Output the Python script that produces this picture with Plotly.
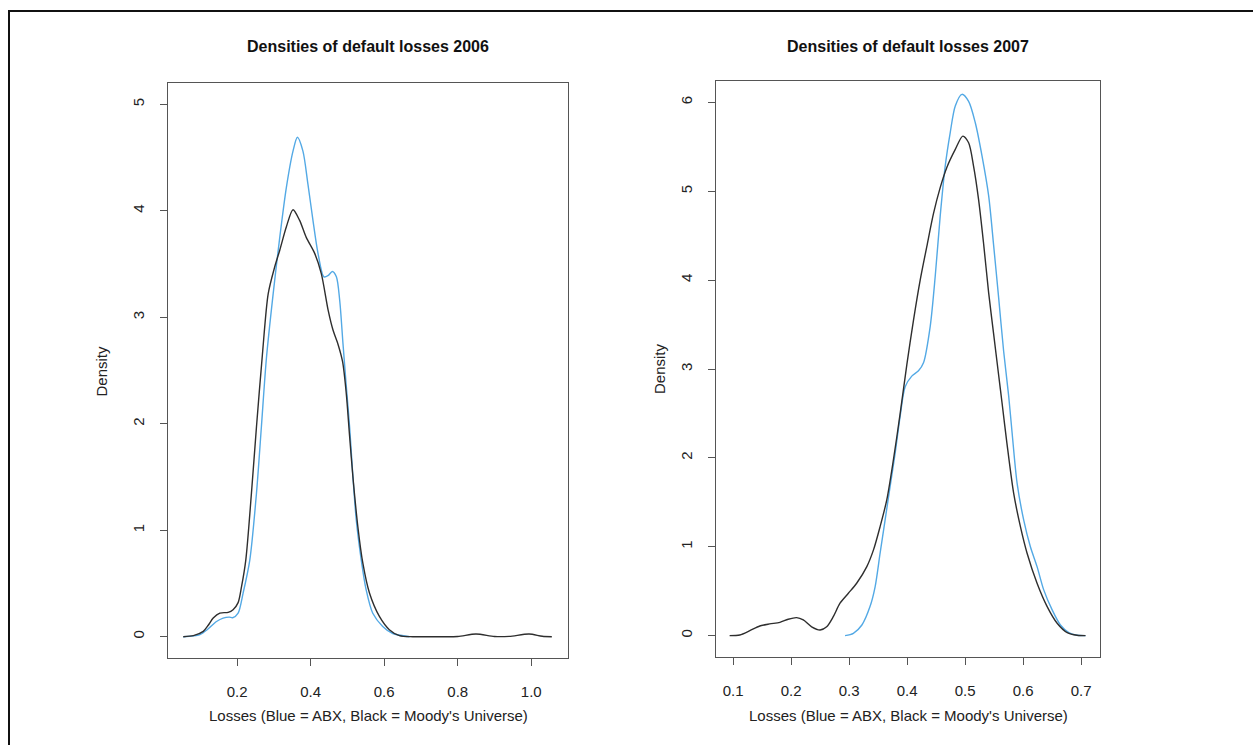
import plotly.graph_objects as go

# ---- data ----
x06_moodys = [0.0535, 0.081, 0.108, 0.122, 0.135, 0.153, 0.1757, 0.189, 0.2027, 0.212, 0.2236, 0.239,
              0.2526, 0.2688, 0.2845, 0.302, 0.316, 0.334, 0.352, 0.370, 0.388, 0.411, 0.429, 0.448,
              0.4608, 0.475, 0.487, 0.497, 0.506, 0.515, 0.5285, 0.542, 0.560, 0.587, 0.614, 0.6415,
              0.678, 0.75, 0.80, 0.8497, 0.90, 0.94, 0.994, 1.03, 1.056]
y06_moodys = [0.0, 0.01, 0.05, 0.11, 0.175, 0.222, 0.228, 0.253, 0.32, 0.47, 0.72, 1.35,
              1.97, 2.65, 3.22, 3.47, 3.63, 3.85, 4.01, 3.91, 3.75, 3.60, 3.41, 3.06,
              2.88, 2.74, 2.58, 2.28, 1.88, 1.50, 1.03, 0.69, 0.41, 0.19, 0.066, 0.01,
              0.0, 0.0, 0.002, 0.025, 0.002, 0.003, 0.025, 0.004, 0.0]

x06_abx = [0.0535, 0.099, 0.120, 0.144, 0.162, 0.1787, 0.1877, 0.2027, 0.2163, 0.2345, 0.2527, 0.266,
           0.2798, 0.298, 0.316, 0.334, 0.352, 0.364, 0.379, 0.3926, 0.4063, 0.42, 0.436, 0.447,
           0.459, 0.47, 0.479, 0.488, 0.497, 0.506, 0.515, 0.524, 0.5377, 0.551, 0.569, 0.596,
           0.6233, 0.669]
y06_abx = [0.0, 0.02, 0.07, 0.143, 0.175, 0.184, 0.178, 0.222, 0.41, 0.72, 1.35, 1.97,
           2.62, 3.22, 3.75, 4.22, 4.56, 4.69, 4.56, 4.25, 3.91, 3.60, 3.38, 3.39,
           3.43, 3.38, 3.16, 2.75, 2.35, 1.97, 1.50, 1.10, 0.72, 0.44, 0.22, 0.097,
           0.03, 0.0]

x07_moodys = [0.094, 0.1116, 0.1288, 0.146, 0.163, 0.1807, 0.195, 0.2095, 0.221, 0.2354, 0.25, 0.2613,
              0.2727, 0.2843, 0.2987, 0.313, 0.3305, 0.342, 0.3534, 0.365, 0.3764, 0.388, 0.3995,
              0.411, 0.4225, 0.434, 0.4455, 0.457, 0.4686, 0.483, 0.496, 0.506, 0.5146, 0.5232,
              0.532, 0.5405, 0.549, 0.5578, 0.5636, 0.572, 0.5837, 0.5953, 0.6068, 0.624, 0.6414,
              0.6586, 0.676, 0.693, 0.7075]
y07_moodys = [0.0, 0.008, 0.056, 0.109, 0.132, 0.15, 0.185, 0.203, 0.177, 0.10, 0.064, 0.10,
              0.214, 0.365, 0.477, 0.59, 0.777, 0.965, 1.227, 1.53, 1.98, 2.50, 3.05,
              3.55, 4.0, 4.38, 4.75, 5.04, 5.27, 5.47, 5.62, 5.545, 5.28, 4.906,
              4.40, 3.86, 3.40, 2.93, 2.62, 2.167, 1.60, 1.227, 0.928, 0.59, 0.327,
              0.14, 0.034, 0.004, 0.0]

x07_abx = [0.293, 0.3073, 0.322, 0.336, 0.3448, 0.3534, 0.362, 0.3707, 0.3793, 0.388, 0.3966, 0.408,
           0.4196, 0.4282, 0.4398, 0.4484, 0.457, 0.4656, 0.4743, 0.483, 0.4945, 0.506, 0.5175,
           0.529, 0.5405, 0.549, 0.5578, 0.5664, 0.575, 0.581, 0.5895, 0.601, 0.6125, 0.624,
           0.6355, 0.65, 0.6643, 0.6787, 0.693, 0.7075]
y07_abx = [0.0, 0.027, 0.12, 0.327, 0.55, 0.928, 1.30, 1.68, 2.05, 2.47, 2.80, 2.92,
           2.98, 3.07, 3.48, 4.04, 4.72, 5.28, 5.66, 5.96, 6.09, 6.01, 5.77,
           5.40, 4.95, 4.40, 3.80, 3.20, 2.70, 2.28, 1.72, 1.30, 1.00, 0.777,
           0.515, 0.29, 0.12, 0.034, 0.004, 0.0]

titles = ["Densities of default losses 2006", "Densities of default losses 2007"]
xlabel = "Losses (Blue = ABX, Black = Moody's Universe)"
ylabel = "Density"
x06_ticks = [0.2, 0.4, 0.6, 0.8, 1.0]
x06_ticktext = ["0.2", "0.4", "0.6", "0.8", "1.0"]
x07_ticks = [0.1, 0.2, 0.3, 0.4, 0.5, 0.6, 0.7]
y06_ticks = [0, 1, 2, 3, 4, 5]
y07_ticks = [0, 1, 2, 3, 4, 5, 6]

BLACK = "#2e2e2e"
BLUE = "#53a9e5"
W, H = 1253, 745
FONT = "Liberation Sans, Arial, Helvetica, sans-serif"

fig = go.Figure()
line_kw = dict(shape="spline", smoothing=0.8, width=1.4)
fig.add_trace(go.Scatter(x=x06_abx, y=y06_abx, mode="lines", line=dict(color=BLUE, **line_kw),
                         xaxis="x", yaxis="y", showlegend=False, hoverinfo="skip"))
fig.add_trace(go.Scatter(x=x06_moodys, y=y06_moodys, mode="lines", line=dict(color=BLACK, **line_kw),
                         xaxis="x", yaxis="y", showlegend=False, hoverinfo="skip"))
fig.add_trace(go.Scatter(x=x07_abx, y=y07_abx, mode="lines", line=dict(color=BLUE, **line_kw),
                         xaxis="x2", yaxis="y2", showlegend=False, hoverinfo="skip"))
fig.add_trace(go.Scatter(x=x07_moodys, y=y07_moodys, mode="lines", line=dict(color=BLACK, **line_kw),
                         xaxis="x2", yaxis="y2", showlegend=False, hoverinfo="skip"))

# plot box pixel geometry
L1, R1, T1, B1 = 168, 568, 83, 658
L2, R2, T2, B2 = 716, 1100, 81, 657

def px(x):
    return x / W

def py(y):
    return 1 - y / H

axis_common = dict(showline=True, mirror=True, linecolor="#555555", linewidth=1,
                   ticks="outside", ticklen=7, tickcolor="#555555", tickwidth=1,
                   showgrid=False, zeroline=False,
                   tickfont=dict(family=FONT, size=15, color="#222222"))

fig.update_layout(
    width=W, height=H,
    margin=dict(l=0, r=0, t=0, b=0),
    paper_bgcolor="white", plot_bgcolor="white",
    font=dict(family=FONT, color="#222222"),
    xaxis=dict(domain=[px(L1), px(R1)], range=[0.012, 1.10], anchor="y",
               tickvals=x06_ticks, ticktext=x06_ticktext, ticklabelstandoff=13, **axis_common),
    yaxis=dict(domain=[py(B1), py(T1)], range=[-0.2, 5.2], anchor="x",
               tickvals=y06_ticks, tickangle=-90, ticklabelstandoff=10, **axis_common),
    xaxis2=dict(domain=[px(L2), px(R2)], range=[0.0705, 0.7325], anchor="y2",
                tickvals=x07_ticks, ticklabelstandoff=13, **axis_common),
    yaxis2=dict(domain=[py(B2), py(T2)], range=[-0.24, 6.24], anchor="x2",
                tickvals=y07_ticks, tickangle=-90, ticklabelstandoff=10, **axis_common),
)

ann = []
for title, cx in [(titles[0], (L1 + R1) / 2), (titles[1], (L2 + R2) / 2)]:
    ann.append(dict(text="<b>" + title + "</b>", x=px(cx), y=py(46), xref="paper", yref="paper",
                    xanchor="center", yanchor="middle", showarrow=False,
                    font=dict(family=FONT, size=16, color="#111111")))
for cx in [(L1 + R1) / 2, (L2 + R2) / 2]:
    ann.append(dict(text=xlabel, x=px(cx), y=py(715), xref="paper", yref="paper",
                    xanchor="center", yanchor="middle", showarrow=False,
                    font=dict(family=FONT, size=15, color="#222222")))
for cx, cy in [(101, (T1 + B1) / 2), (659, (T2 + B2) / 2)]:
    ann.append(dict(text=ylabel, x=px(cx), y=py(cy), xref="paper", yref="paper",
                    xanchor="center", yanchor="middle", textangle=-90, showarrow=False,
                    font=dict(family=FONT, size=15, color="#222222")))
fig.update_layout(annotations=ann)

# outer frame (top and left edges only, as in the image)
fig.add_shape(type="line", xref="paper", yref="paper", x0=px(8), x1=1, y0=py(11), y1=py(11),
              line=dict(color="#111111", width=2))
fig.add_shape(type="line", xref="paper", yref="paper", x0=px(9), x1=px(9), y0=0, y1=py(11),
              line=dict(color="#111111", width=2))

fig.write_html("out.html", config={"displayModeBar": False},
               post_script="document.body.style.margin='0px';")
